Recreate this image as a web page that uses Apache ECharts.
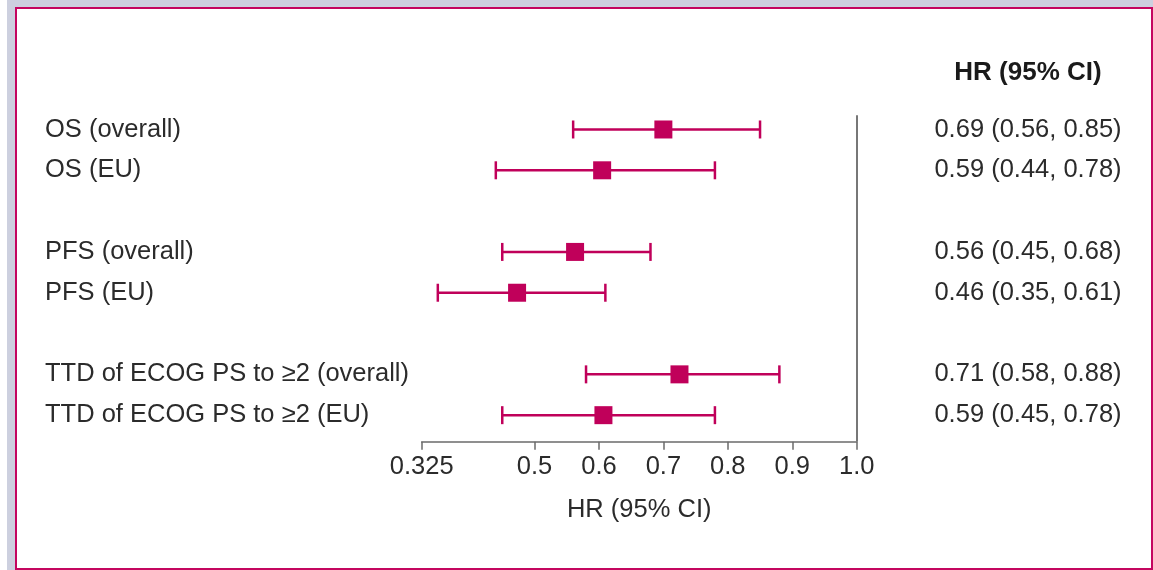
<!DOCTYPE html>
<html>
<head>
<meta charset="utf-8">
<script src="https://cdn.jsdelivr.net/npm/echarts@6/dist/echarts.min.js"></script>
<style>
  html, body { margin: 0; padding: 0; background: #fff; }
  .back { position: absolute; left: 7px; top: 0; width: 1146px; height: 570px; background: #cdd0df; }
  .frame { position: absolute; left: 15px; top: 7px; width: 1138px; height: 563px; box-sizing: border-box;
           border: 2px solid #c4065f; background: #fff; }
  #chart { position: absolute; left: 0; top: 0; width: 1153px; height: 570px; }
</style>
</head>
<body>
<div class="back"></div>
<div class="frame"></div>
<div id="chart"></div>
<script>
// rows of the forest plot (gaps between the groups are left empty)
const rowNames = [
  'OS (overall)', 'OS (EU)',
  'PFS (overall)', 'PFS (EU)',
  'TTD of ECOG PS to \u22652 (overall)', 'TTD of ECOG PS to \u22652 (EU)'
];
const rowPos = [0, 1, 3, 4, 6, 7];

// reported values (right column)
const hrReported = [0.69, 0.59, 0.56, 0.46, 0.71, 0.59];
const ciLow = [0.56, 0.44, 0.45, 0.35, 0.58, 0.45];
const ciHigh = [0.85, 0.78, 0.68, 0.61, 0.88, 0.78];
// where the squares sit in the picture
const hrMarker = [0.70, 0.605, 0.563, 0.473, 0.725, 0.607];

const xTicks = [0.325, 0.5, 0.6, 0.7, 0.8, 0.9, 1.0];

const pink = '#c0005a';
const textColor = '#2b2b2b';
const font = "'Liberation Sans', Arial, Helvetica, sans-serif";
const fs = 25.5;

const chart = echarts.init(document.getElementById('chart'));

const ciData = rowPos.map((y, i) => [ciLow[i], ciHigh[i], y]);
const hrData = rowPos.map((y, i) => [hrMarker[i], y]);

const fmtText = i => hrReported[i].toFixed(2) + ' (' + ciLow[i].toFixed(2) + ', ' + ciHigh[i].toFixed(2) + ')';

chart.setOption({
  animation: false,
  textStyle: { fontFamily: font },
  grid: { left: 421.7, right: 296.3, top: 115.2, bottom: 128.3 },
  xAxis: {
    type: 'value',
    min: 0.325,
    max: 1.0,
    splitLine: { show: false },
    axisLine: { onZero: false, lineStyle: { color: '#6b6b6b', width: 1.5 } },
    axisTick: { customValues: xTicks, length: 8, lineStyle: { color: '#6b6b6b', width: 1.5 } },
    axisLabel: {
      customValues: xTicks,
      margin: 12,
      fontSize: fs,
      color: textColor,
      fontFamily: font,
      formatter: v => (Math.abs(v - 0.325) < 1e-6 ? '0.325' : v.toFixed(1))
    },
    name: 'HR (95% CI)',
    nameLocation: 'middle',
    nameGap: 55,
    nameTextStyle: { fontSize: fs, color: textColor, fontFamily: font }
  },
  yAxis: [
    {
      type: 'value',
      inverse: true,
      min: -0.35,
      max: 7.65,
      splitLine: { show: false },
      axisLine: { show: false },
      axisTick: { show: false },
      axisLabel: {
        customValues: rowPos,
        align: 'left',
        margin: 376.7,
        fontSize: fs,
        color: textColor,
        fontFamily: font,
        formatter: v => rowNames[rowPos.indexOf(v)] || ''
      }
    },
    {
      type: 'value',
      position: 'right',
      inverse: true,
      min: -0.35,
      max: 7.65,
      splitLine: { show: false },
      axisLine: { show: false },
      axisTick: { show: false },
      axisLabel: {
        customValues: rowPos,
        align: 'center',
        margin: 171.3,
        fontSize: fs,
        color: textColor,
        fontFamily: font,
        formatter: v => {
          const i = rowPos.indexOf(v);
          return i < 0 ? '' : fmtText(i);
        }
      }
    }
  ],
  graphic: [{
    type: 'text',
    x: 1028,
    y: 73,
    style: {
      text: 'HR (95% CI)',
      textAlign: 'center',
      textVerticalAlign: 'middle',
      fill: '#1a1a1a',
      font: 'bold 26px ' + font
    }
  }],
  series: [
    {
      type: 'custom',
      data: ciData,
      encode: { x: [0, 1], y: 2 },
      renderItem: (params, api) => {
        const a = api.coord([api.value(0), api.value(2)]);
        const b = api.coord([api.value(1), api.value(2)]);
        const h = 9;
        const style = { stroke: pink, lineWidth: 2.5 };
        return {
          type: 'group',
          children: [
            { type: 'line', shape: { x1: a[0], y1: a[1], x2: b[0], y2: b[1] }, style },
            { type: 'line', shape: { x1: a[0], y1: a[1] - h, x2: a[0], y2: a[1] + h }, style },
            { type: 'line', shape: { x1: b[0], y1: b[1] - h, x2: b[0], y2: b[1] + h }, style }
          ]
        };
      }
    },
    {
      type: 'scatter',
      data: hrData,
      symbol: 'rect',
      symbolSize: 18,
      itemStyle: { color: pink, opacity: 1 },
      markLine: {
        silent: true,
        symbol: 'none',
        label: { show: false },
        lineStyle: { color: '#777', width: 2, type: 'solid' },
        data: [{ xAxis: 1.0 }]
      }
    }
  ]
});
</script>
</body>
</html>
